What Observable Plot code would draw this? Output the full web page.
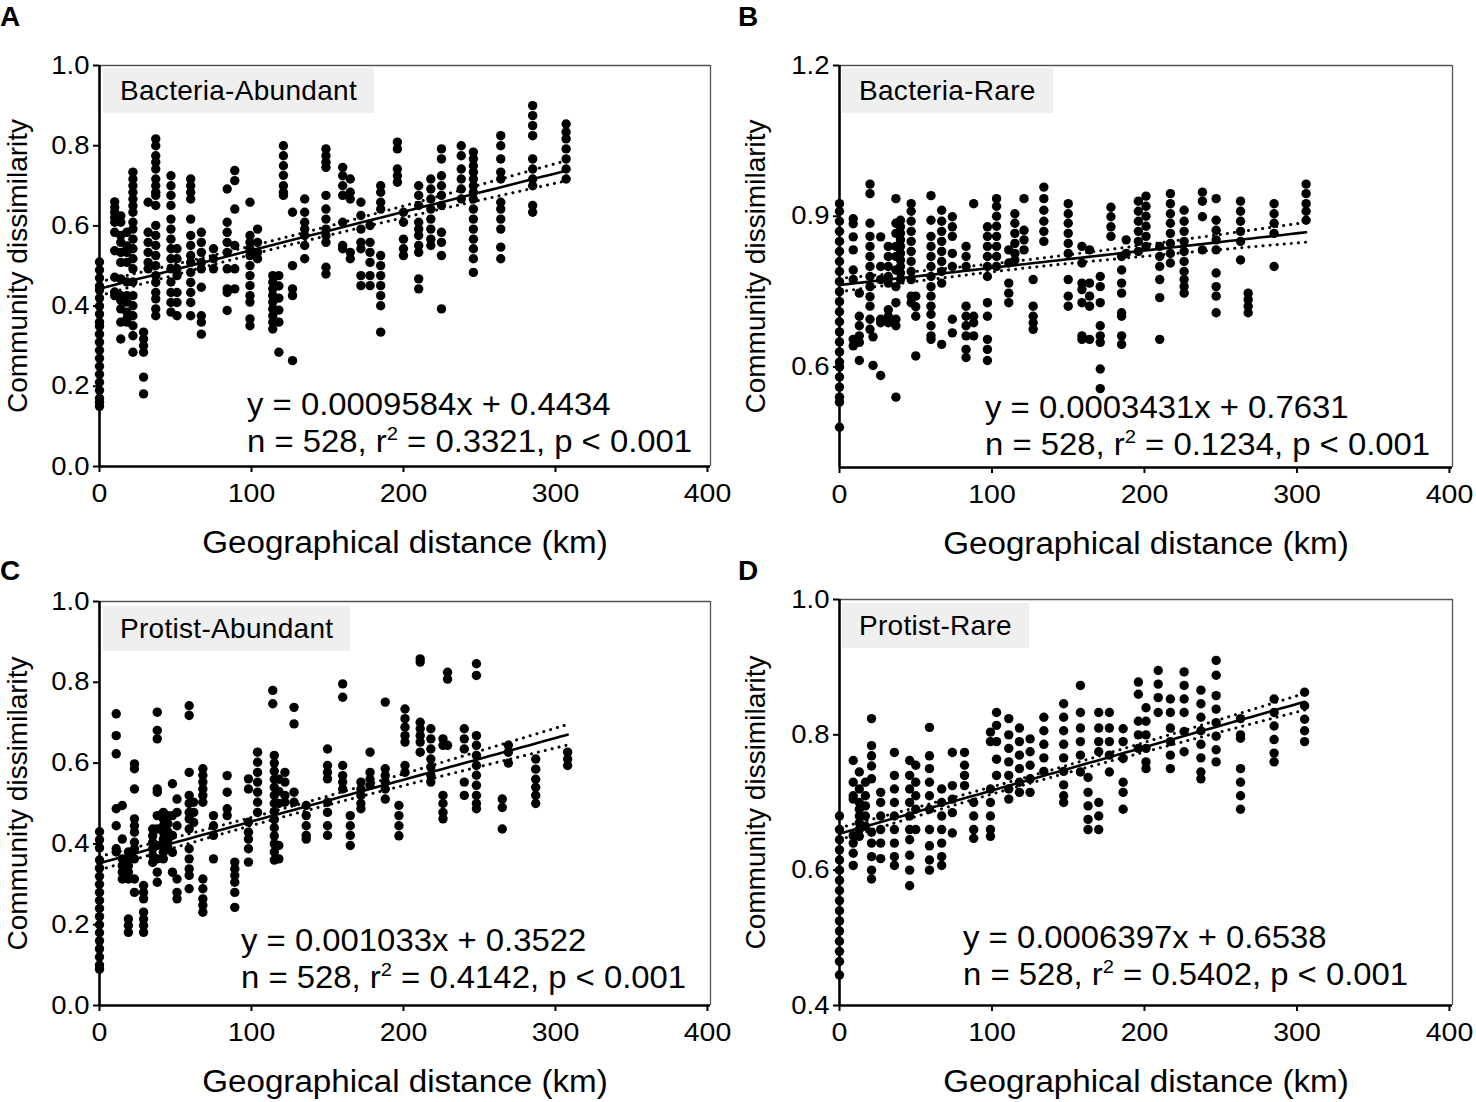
<!DOCTYPE html>
<html>
<head>
<meta charset="utf-8">
<script src="https://cdn.jsdelivr.net/npm/d3@7"></script>
<script src="https://cdn.jsdelivr.net/npm/@observablehq/plot@0.6"></script>
<style>
  html, body { margin: 0; padding: 0; background: #fff; }
  #fig { position: relative; width: 1476px; height: 1102px; font-family: "Liberation Sans", Arial, sans-serif; color: #000; overflow: hidden; }
  .panel { position: absolute; width: 738px; height: 551px; }
  .letter { position: absolute; font-weight: bold; font-size: 28px; line-height: 28px; }
  .tag { position: absolute; background: #efefef; font-size: 28px; height: 45px; line-height: 45px; padding: 0 17px; white-space: nowrap; letter-spacing: 0.3px; }
  .eq { position: absolute; font-size: 31px; line-height: 37px; white-space: nowrap; transform: scaleX(1.06); transform-origin: 0 0; }
  .eq sup { font-size: 19px; line-height: 0; vertical-align: 0; position: relative; top: -12px; }
</style>
</head>
<body>
<div id="fig"></div>
<script>
// ---- Data: [distance km, [community dissimilarity values]] ----
const bacteriaAbundant = [
  [0, [0.51,0.49,0.47,0.45,0.44,0.42,0.40,0.38,0.36,0.35,0.33,0.31,0.29,0.27,0.25,0.23,0.21,0.19,0.17,0.16,0.15]],
  [10, [0.66,0.646,0.634,0.621,0.609,0.584,0.538,0.472,0.435,0.426]],
  [14, [0.625,0.609,0.576,0.559,0.534,0.509,0.468,0.426,0.414,0.393,0.36,0.318]],
  [18, [0.584,0.55,0.534,0.509,0.46,0.426,0.41,0.385,0.368,0.36]],
  [22, [0.734,0.717,0.70,0.684,0.667,0.65,0.634,0.609,0.592,0.567,0.543,0.518,0.493,0.46,0.426,0.401,0.376,0.351,0.326,0.285]],
  [29, [0.335,0.318,0.301,0.285,0.223,0.181]],
  [32, [0.659,0.584,0.559,0.534,0.509,0.493]],
  [37, [0.817,0.80,0.775,0.759,0.742,0.717,0.70,0.684,0.676,0.651,0.601,0.576,0.551,0.526,0.501,0.476,0.459,0.434,0.418,0.393,0.376]],
  [47, [0.725,0.70,0.676,0.651,0.617,0.592,0.567,0.543,0.518,0.493,0.46,0.434,0.409,0.385]],
  [51, [0.543,0.518,0.493,0.476,0.434,0.409,0.376]],
  [60, [0.717,0.70,0.684,0.667,0.617,0.576,0.551,0.526,0.509,0.484,0.459,0.434,0.409,0.376]],
  [67, [0.584,0.559,0.534,0.509,0.493,0.447,0.376,0.36,0.33]],
  [75, [0.543,0.518,0.493]],
  [84, [0.692,0.609,0.584,0.559,0.534,0.493,0.443,0.434,0.389]],
  [89, [0.738,0.713,0.642,0.551,0.493,0.443]],
  [99, [0.659,0.576,0.559,0.543,0.526,0.501,0.476,0.451,0.426,0.41,0.368,0.351]],
  [104, [0.592,0.559,0.534,0.518]],
  [114, [0.476,0.46,0.443,0.426,0.41,0.393,0.376,0.36,0.343]],
  [118, [0.476,0.45,0.42,0.39,0.36,0.285]],
  [121, [0.80,0.775,0.75,0.726,0.70,0.684,0.676]],
  [127, [0.634,0.501,0.443,0.426,0.264]],
  [135, [0.667,0.634,0.609,0.592,0.576,0.551,0.518]],
  [149, [0.792,0.775,0.759,0.746,0.676,0.642,0.617,0.592,0.576,0.559,0.497,0.48]],
  [160, [0.746,0.725,0.70,0.676,0.609,0.551,0.543]],
  [165, [0.717,0.684,0.667,0.534,0.518]],
  [172, [0.659,0.626,0.592,0.559,0.543,0.476,0.451]],
  [178, [0.601,0.559,0.534,0.509,0.476,0.451]],
  [185, [0.70,0.684,0.659,0.642,0.526,0.501,0.476,0.451,0.426,0.401,0.335]],
  [196, [0.809,0.792,0.742,0.725,0.709]],
  [200, [0.634,0.609,0.567,0.543,0.526]],
  [210, [0.70,0.676,0.651,0.609,0.592,0.576,0.551,0.534,0.468,0.443]],
  [218, [0.717,0.692,0.667,0.642,0.617,0.592,0.567,0.551]],
  [225, [0.792,0.767,0.725,0.70,0.676,0.651,0.584,0.559,0.526,0.393]],
  [238, [0.80,0.775,0.742,0.717,0.692,0.667]],
  [246, [0.784,0.767,0.75,0.734,0.717,0.70,0.684,0.667,0.642,0.617,0.592,0.567,0.543,0.518,0.484]],
  [264, [0.825,0.80,0.767,0.734,0.717,0.659,0.642,0.617,0.592,0.547,0.518]],
  [285, [0.90,0.875,0.85,0.825,0.767,0.742,0.717,0.70,0.651,0.634]],
  [307, [0.854,0.834,0.817,0.792,0.767,0.742,0.717]]
];

const bacteriaRare = [
  [0, [0.925,0.91,0.89,0.87,0.85,0.83,0.81,0.79,0.77,0.75,0.73,0.71,0.69,0.67,0.65,0.63,0.61,0.60,0.58,0.56,0.54,0.53,0.48]],
  [9, [0.895,0.885,0.859,0.833,0.793,0.774,0.655,0.642]],
  [13, [0.747,0.701,0.682,0.662,0.649,0.613]],
  [20, [0.964,0.945,0.886,0.86,0.84,0.82,0.80,0.78,0.76,0.74,0.721,0.695,0.675]],
  [22, [0.66,0.603]],
  [27, [0.859,0.80,0.774,0.695,0.688,0.583]],
  [32, [0.84,0.82,0.80,0.78,0.767,0.714,0.701,0.688]],
  [37, [0.935,0.886,0.866,0.84,0.82,0.793,0.76,0.728,0.695,0.682,0.54]],
  [40, [0.892,0.879,0.866,0.853,0.84,0.826,0.813,0.80,0.787,0.774]],
  [47, [0.925,0.91,0.89,0.87,0.85,0.83,0.81,0.79,0.774,0.741,0.728]],
  [50, [0.741,0.72,0.701,0.622]],
  [60, [0.941,0.892,0.86,0.84,0.82,0.80,0.78,0.76,0.741,0.721,0.705,0.682,0.662,0.655]],
  [67, [0.912,0.89,0.87,0.85,0.83,0.81,0.79,0.767,0.645]],
  [74, [0.899,0.879,0.86,0.826,0.80,0.695,0.668]],
  [83, [0.84,0.82,0.80,0.721,0.701,0.682,0.662,0.635,0.619]],
  [88, [0.925,0.701,0.688,0.662]],
  [97, [0.879,0.86,0.84,0.82,0.80,0.78,0.728,0.701,0.655,0.635,0.613]],
  [103, [0.935,0.92,0.90,0.88,0.86,0.84,0.82,0.80]],
  [111, [0.833,0.807,0.767,0.747,0.728]],
  [115, [0.905,0.886,0.866,0.846,0.826,0.813]],
  [121, [0.935,0.872,0.853,0.833]],
  [127, [0.774,0.721,0.701,0.688,0.675]],
  [134, [0.958,0.935,0.912,0.89,0.87,0.85]],
  [150, [0.925,0.905,0.886,0.866,0.846,0.826,0.774,0.741,0.721]],
  [159, [0.84,0.807,0.767,0.754,0.728,0.662,0.655]],
  [164, [0.833,0.767,0.741,0.721,0.655]],
  [171, [0.78,0.76,0.728,0.682,0.662,0.649,0.596,0.557]],
  [178, [0.918,0.899,0.879,0.86]],
  [185, [0.82,0.793,0.767,0.747,0.708,0.701,0.662,0.645]],
  [188, [0.853,0.826]],
  [196, [0.93,0.91,0.89,0.87,0.85,0.83]],
  [201, [0.94,0.92,0.90,0.88,0.86,0.84]],
  [210, [0.84,0.82,0.80,0.774,0.738,0.655]],
  [217, [0.945,0.925,0.905,0.886,0.866,0.846,0.826,0.807]],
  [226, [0.912,0.89,0.87,0.85,0.83,0.81,0.79,0.774,0.76,0.747]],
  [238, [0.948,0.93,0.899,0.833]],
  [247, [0.935,0.892,0.872,0.853,0.833,0.787,0.76,0.741,0.708]],
  [263, [0.93,0.91,0.89,0.87,0.85,0.813]],
  [268, [0.747,0.734,0.721,0.708]],
  [285, [0.925,0.905,0.886,0.866,0.80]],
  [306, [0.964,0.945,0.925,0.91,0.892]]
];

const protistAbundant = [
  [0, [0.43,0.41,0.39,0.36,0.34,0.32,0.30,0.28,0.26,0.24,0.22,0.20,0.18,0.16,0.14,0.12,0.10,0.09]],
  [11, [0.722,0.668,0.623,0.487,0.445,0.388,0.38]],
  [15, [0.495,0.412,0.363,0.346,0.33,0.313]],
  [19, [0.38,0.363,0.346,0.33,0.313,0.214,0.198,0.181]],
  [23, [0.598,0.586,0.536,0.462,0.445,0.429,0.404,0.388,0.363,0.313,0.28]],
  [29, [0.297,0.28,0.264,0.231,0.214,0.198,0.181]],
  [35, [0.437,0.42,0.404,0.388,0.371,0.354]],
  [38, [0.726,0.681,0.66,0.536,0.528,0.47,0.437,0.396,0.363,0.33,0.305]],
  [42, [0.478,0.462,0.445,0.429,0.412,0.396,0.379,0.363]],
  [45, [0.47,0.45,0.43,0.41,0.39]],
  [48, [0.549,0.47,0.421,0.379,0.33]],
  [51, [0.511,0.478,0.445,0.313,0.28,0.264]],
  [59, [0.742,0.718,0.577,0.52,0.50,0.478,0.462,0.437,0.388,0.363,0.338,0.322,0.289]],
  [62, [0.503,0.478,0.453]],
  [68, [0.586,0.57,0.553,0.536,0.52,0.503,0.313,0.289,0.264,0.248,0.231]],
  [75, [0.47,0.445,0.421,0.363]],
  [84, [0.569,0.528,0.487,0.47]],
  [89, [0.355,0.338,0.322,0.305,0.28,0.243]],
  [98, [0.561,0.536,0.454,0.429,0.412,0.388,0.355]],
  [104, [0.627,0.602,0.577,0.553,0.528,0.503,0.478]],
  [114, [0.78,0.747]],
  [115, [0.619,0.60,0.58,0.56,0.54,0.52,0.50,0.48,0.46,0.44,0.42,0.40,0.38,0.36]],
  [118, [0.56,0.53,0.50,0.396,0.363]],
  [122, [0.577,0.553,0.52,0.503]],
  [128, [0.738,0.697,0.528,0.503]],
  [136, [0.495,0.47,0.445,0.421,0.412]],
  [150, [0.635,0.594,0.577,0.561,0.503,0.478,0.445,0.421]],
  [160, [0.796,0.763,0.594,0.569,0.553,0.536]],
  [165, [0.47,0.445,0.421,0.396]],
  [172, [0.553,0.536,0.52,0.50,0.487]],
  [178, [0.627,0.577,0.56,0.545]],
  [188, [0.751,0.586,0.569,0.553,0.536,0.511]],
  [197, [0.495,0.47,0.445,0.42]],
  [201, [0.734,0.71,0.689,0.668,0.652,0.594,0.577]],
  [211, [0.858,0.85,0.701,0.685,0.668,0.652,0.627]],
  [218, [0.685,0.66,0.635,0.61,0.59,0.57,0.553]],
  [226, [0.66,0.644,0.52,0.50,0.478,0.462]],
  [229, [0.825,0.808,0.644]],
  [240, [0.685,0.66,0.635,0.553,0.52]],
  [248, [0.846,0.817,0.668,0.644,0.619,0.594,0.57,0.545,0.52,0.50,0.487]],
  [265, [0.511,0.49,0.437]],
  [269, [0.644,0.627,0.60]],
  [287, [0.61,0.585,0.56,0.54,0.52,0.50]],
  [308, [0.627,0.61,0.594]]
];

const protistRare = [
  [0, [0.68,0.66,0.645,0.63,0.615,0.60,0.585,0.57,0.555,0.54,0.525,0.51,0.495,0.48,0.465,0.445]],
  [9, [0.762,0.73,0.71,0.705,0.651,0.64,0.625,0.607]],
  [13, [0.745,0.72,0.70,0.69,0.68,0.67,0.66,0.65]],
  [17, [0.73,0.71,0.695,0.68,0.665]],
  [21, [0.824,0.784,0.769,0.754,0.735,0.656,0.64,0.62,0.60,0.587]],
  [27, [0.715,0.70,0.68,0.66,0.64,0.617]],
  [36, [0.774,0.74,0.72,0.70,0.68,0.66,0.64,0.62,0.607]],
  [46, [0.762,0.74,0.72,0.70,0.68,0.66,0.645,0.622,0.60,0.577]],
  [50, [0.755,0.73,0.71,0.69,0.66]],
  [59, [0.811,0.769,0.75,0.73,0.71,0.69,0.66,0.636,0.615,0.60]],
  [67, [0.72,0.70,0.68,0.66,0.64,0.62,0.607]],
  [74, [0.774,0.725,0.705,0.685,0.655]],
  [82, [0.774,0.755,0.74,0.725]],
  [88, [0.70,0.68,0.66,0.647]],
  [99, [0.804,0.79,0.72,0.70,0.68,0.66,0.65]],
  [103, [0.833,0.814,0.79,0.764,0.74]],
  [111, [0.824,0.80,0.78,0.76,0.74,0.72,0.705]],
  [118, [0.81,0.79,0.77,0.75,0.73,0.715]],
  [125, [0.794,0.775,0.755,0.735,0.715]],
  [134, [0.826,0.806,0.786,0.766,0.746]],
  [147, [0.846,0.826,0.806,0.786,0.766,0.746,0.726,0.71,0.70]],
  [158, [0.873,0.833,0.81,0.79,0.77,0.745]],
  [163, [0.737,0.715,0.695,0.675,0.66]],
  [170, [0.833,0.81,0.79,0.775,0.70,0.68,0.66]],
  [177, [0.833,0.81,0.79,0.77,0.745]],
  [186, [0.809,0.79,0.765,0.73,0.715,0.69]],
  [196, [0.878,0.86,0.82,0.80,0.78]],
  [201, [0.84,0.82,0.80,0.78,0.76,0.75]],
  [209, [0.895,0.875,0.855,0.833]],
  [217, [0.853,0.833,0.81,0.79,0.77,0.75]],
  [226, [0.893,0.873,0.853,0.833,0.805,0.775]],
  [237, [0.866,0.846,0.826,0.806,0.786,0.766,0.745,0.735]],
  [247, [0.91,0.888,0.858,0.838,0.818,0.798,0.778,0.76]],
  [263, [0.824,0.80,0.795,0.75,0.73,0.71,0.69]],
  [285, [0.853,0.833,0.813,0.793,0.773,0.76]],
  [305, [0.863,0.843,0.823,0.806,0.79]]
];

// ---- Panel texts and fitted equations ----
const panelLetters = ["A", "B", "C", "D"];
const panelTitles = ["Bacteria-Abundant", "Bacteria-Rare", "Protist-Abundant", "Protist-Rare"];
const slopes = [0.0009584, 0.0003431, 0.001033, 0.0006397];
const intercepts = [0.4434, 0.7631, 0.3522, 0.6538];
const slopeLabels = ["0.0009584", "0.0003431", "0.001033", "0.0006397"];
const interceptLabels = ["0.4434", "0.7631", "0.3522", "0.6538"];
const nValues = [528, 528, 528, 528];
const r2Labels = ["0.3321", "0.1234", "0.4142", "0.5402"];
const pLabels = ["0.001", "0.001", "0.001", "0.001"];
const yDomains = [[0, 1], [0.4, 1.2], [0, 1], [0.4, 1]];
const yTickSets = [[0, 0.2, 0.4, 0.6, 0.8, 1.0], [0.6, 0.9, 1.2], [0, 0.2, 0.4, 0.6, 0.8, 1.0], [0.4, 0.6, 0.8, 1.0]];
const xTicks = [0, 100, 200, 300, 400];
const xLabel = "Geographical distance (km)";
const yLabel = "Community dissimilarity";
const datasets = [bacteriaAbundant, bacteriaRare, protistAbundant, protistRare];

// layout
const layout = [
  {left: 0,   top: 0,   mL: 99,  mR: 28, mT: 65, mB: 85, tag: [103, 68],  eq: [247, 386], letter: [0, 3]},
  {left: 738, top: 0,   mL: 101, mR: 24, mT: 65, mB: 84, tag: [842, 68],  eq: [985, 389], letter: [738, 3]},
  {left: 0,   top: 551, mL: 99,  mR: 28, mT: 50, mB: 97, tag: [103, 606], eq: [241, 922], letter: [0, 557]},
  {left: 738, top: 551, mL: 101, mR: 24, mT: 48, mB: 97, tag: [842, 603], eq: [963, 919], letter: [738, 557]}
];

const fig = document.getElementById("fig");
const FONT = '"Liberation Sans", Arial, sans-serif';

function stretchText(nodes, k) {
  nodes.forEach(t => {
    const len = t.getComputedTextLength();
    if (len > 0) {
      t.setAttribute("textLength", (len * k).toFixed(1));
      t.setAttribute("lengthAdjust", "spacingAndGlyphs");
    }
  });
}

datasets.forEach((cols, i) => {
  const L = layout[i];
  const data = cols.flatMap(([x, ys]) => ys.map(y => ({x, y})));
  const m = data.length;
  const nRef = nValues[i];
  const xbar = d3.mean(data, d => d.x);
  const Sxx = d3.sum(data, d => (d.x - xbar) ** 2) * nRef / m;
  const s = Math.sqrt(d3.sum(data, d => (d.y - (intercepts[i] + slopes[i] * d.x)) ** 2) / (m - 2));
  const maxX = d3.max(data, d => d.x);
  const fit = d3.range(0, 61).map(k => {
    const x = maxX * k / 60;
    const yh = intercepts[i] + slopes[i] * x;
    const se = s * Math.sqrt(1 / nRef + (x - xbar) ** 2 / Sxx);
    return {x, y: yh, lo: yh - 1.96 * se, hi: yh + 1.96 * se};
  });
  const [y0, y1] = yDomains[i];

  const chart = Plot.plot({
    width: 738, height: 551,
    marginLeft: L.mL, marginRight: L.mR, marginTop: L.mT, marginBottom: L.mB,
    x: {domain: [0, 402], axis: null},
    y: {domain: yDomains[i], axis: null},
    style: {fontFamily: FONT, fontSize: "25px", color: "#000", background: "transparent", overflow: "visible"},
    marks: [
      Plot.ruleY([y1], {stroke: "#555", strokeWidth: 1.3}),
      Plot.ruleX([402], {stroke: "#555", strokeWidth: 1.3}),
      Plot.axisX({ticks: xTicks, tickSize: 6, tickPadding: 12, strokeWidth: 2, fontSize: 25, label: null, tickFormat: d => String(d)}),
      Plot.axisY({ticks: yTickSets[i], tickSize: 6, tickPadding: 4, strokeWidth: 2, fontSize: 25, label: null, tickFormat: d3.format(".1f")}),
      Plot.dot(data, {x: "x", y: "y", r: 4.7, fill: "#000", stroke: null}),
      Plot.line(fit, {x: "x", y: "lo", stroke: "#000", strokeWidth: 3, strokeDasharray: "0.1,7", strokeLinecap: "round"}),
      Plot.line(fit, {x: "x", y: "hi", stroke: "#000", strokeWidth: 3, strokeDasharray: "0.1,7", strokeLinecap: "round"}),
      Plot.line(fit, {x: "x", y: "y", stroke: "#000", strokeWidth: 2.6}),
      Plot.ruleX([0], {y1: y0, y2: y1, stroke: "#000", strokeWidth: 2.6}),
      Plot.ruleY([y0], {x1: 0, x2: 402, stroke: "#000", strokeWidth: 2.6}),
      Plot.text([xLabel], {frameAnchor: "bottom", dy: 77, fontSize: 31, textAnchor: "middle", lineAnchor: "middle", fill: "#000"}),
      Plot.text([yLabel], {frameAnchor: "left", dx: -(L.mL - 18), rotate: -90, fontSize: 28, textAnchor: "middle", lineAnchor: "middle", fill: "#000"})
    ]
  });
  const holder = document.createElement("div");
  holder.className = "panel";
  holder.style.left = L.left + "px";
  holder.style.top = L.top + "px";
  holder.appendChild(chart);
  fig.appendChild(holder);

  // mimic the slightly wide lettering of the original figure
  stretchText(chart.querySelectorAll('g[aria-label="x-axis tick label"] text'), 1.14);
  stretchText(chart.querySelectorAll('g[aria-label="y-axis tick label"] text'), 1.1);
  stretchText([...chart.querySelectorAll("text")].filter(t => t.textContent === xLabel), 1.07);

  const letter = document.createElement("div");
  letter.className = "letter";
  letter.style.left = L.letter[0] + "px";
  letter.style.top = L.letter[1] + "px";
  letter.textContent = panelLetters[i];
  fig.appendChild(letter);

  const tag = document.createElement("div");
  tag.className = "tag";
  tag.style.left = L.tag[0] + "px";
  tag.style.top = L.tag[1] + "px";
  tag.textContent = panelTitles[i];
  fig.appendChild(tag);

  const eq = document.createElement("div");
  eq.className = "eq";
  eq.style.left = L.eq[0] + "px";
  eq.style.top = L.eq[1] + "px";
  eq.innerHTML = `y = ${slopeLabels[i]}x + ${interceptLabels[i]}<br>n = ${nValues[i]}, r<sup>2</sup> = ${r2Labels[i]}, p &lt; ${pLabels[i]}`;
  fig.appendChild(eq);
});
</script>
</body>
</html>
